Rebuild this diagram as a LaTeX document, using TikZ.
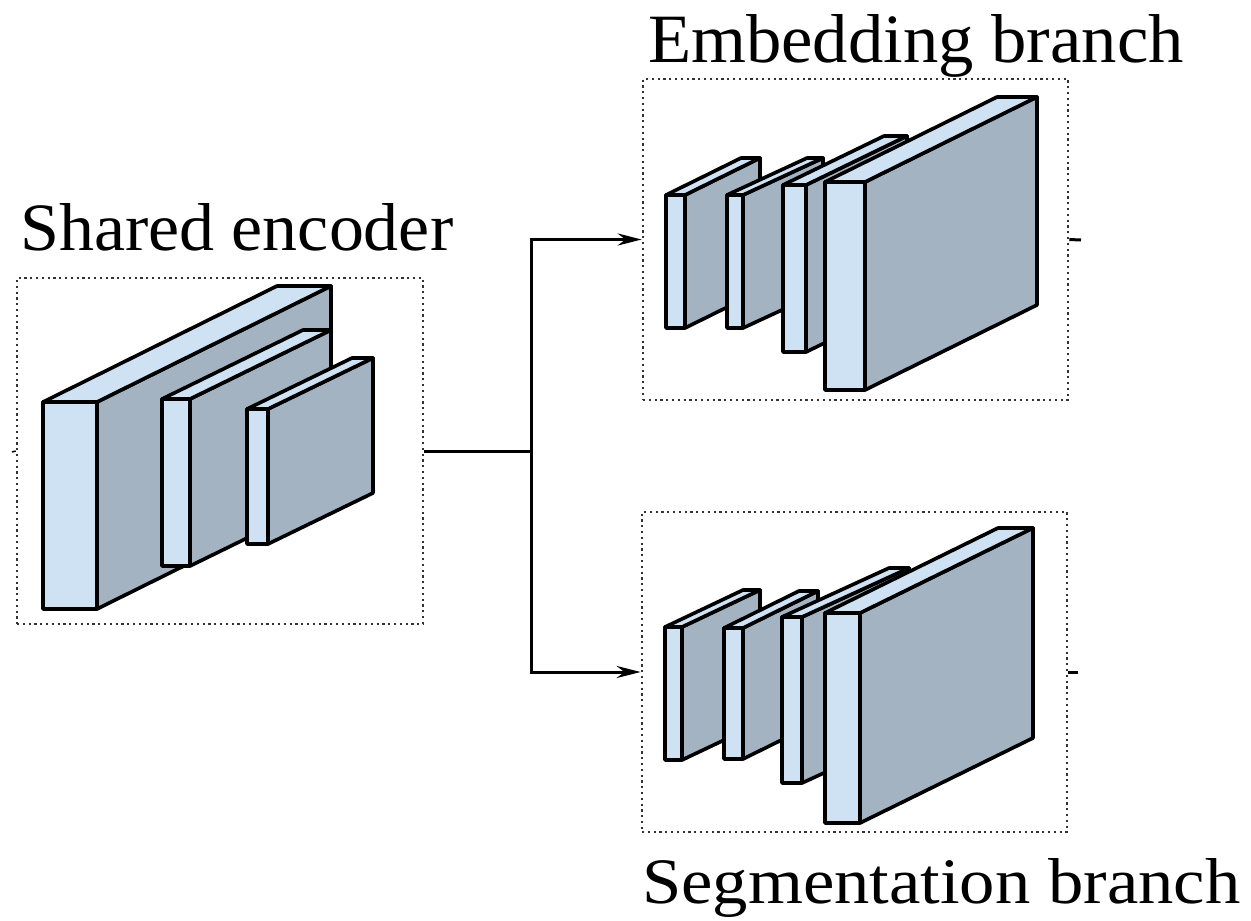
\documentclass[tikz,border=0pt]{standalone}
\usepackage{graphicx}
\usepackage{fontspec}
\setmainfont{Liberation Serif}
\usetikzlibrary{arrows.meta}
\definecolor{facecol}{RGB}{207,226,243}
\definecolor{sidecol}{RGB}{163,179,194}
\definecolor{framecol}{RGB}{50,50,50}
\tikzset{
  frame/.style={draw=framecol, line width=2.6pt, dash pattern=on 2.2pt off 3.6pt, inner sep=0pt, rectangle},
  conn/.style={draw=black, line width=3pt},
  arr/.style={conn, -{Stealth[length=24pt,width=12pt]}},
  layerline/.style={draw=black, line width=3.6pt, line join=round},
  lbl/.style={anchor=base west, inner sep=0pt, font=\rmfamily},
}
% x1, x2, ytop, ybot, dx, dy
\newcommand\layerblk[6]{%
  \filldraw[layerline, fill=sidecol] (#2,#3) -- ++(#5,#6) -- ++(0,#4-#3) -- (#2,#4) -- cycle;
  \filldraw[layerline, fill=facecol] (#1,#3) -- ++(#5,#6) -- ++(#2-#1,0) -- (#2,#3) -- cycle;
  \filldraw[layerline, fill=facecol] (#1,#3) rectangle (#2,#4);
}
\begin{document}
\begin{tikzpicture}[x=1pt,y=-1pt]
\useasboundingbox (0,0) rectangle (1251,921);

% frames
\node[frame, minimum width=406pt, minimum height=346pt] (enc) at (220,451) {};
\node[frame, minimum width=425pt, minimum height=321pt] (emb) at (855.5,239.5) {};
\node[frame, minimum width=425pt, minimum height=320pt] (seg) at (854.5,672) {};

% shared encoder layers
\layerblk{43}{97}{402}{609}{234}{-116}
\layerblk{162}{190}{399}{566}{141}{-69}
\layerblk{247}{268}{409}{544}{105}{-51}

% embedding branch layers
\layerblk{666}{685}{195}{328}{75}{-37}
\layerblk{727}{743}{195}{328}{80}{-37}
\layerblk{783}{806}{185}{352}{101}{-49}
\layerblk{825}{865}{182}{390}{172}{-85}

% segmentation branch layers
\layerblk{665}{682}{627}{760}{78}{-37}
\layerblk{724}{743}{628}{759}{75}{-37}
\layerblk{782}{802}{617}{783}{107}{-49}
\layerblk{825}{860}{613}{823}{173}{-85}

% connectors
\coordinate (split) at (531,451);
\coordinate (encin) at (12,452);
\draw[conn, line width=1.5pt] (encin) -- (enc.west);
\draw[conn] (enc.east) -- (split);
\draw[arr] (split) |- (emb.west);
\draw[arr] (split) |- (seg.west);
\coordinate (embout) at (1081,240);
\coordinate (segout) at (1078,672);
\draw[conn] (emb.east) -- (embout);
\draw[conn] (seg.east) -- (segout);

% labels
\node[lbl] (tenc) at (20,250) {\resizebox{433pt}{47pt}{Shared encoder}};
\node[lbl] (temb) at (648,62) {\resizebox{535pt}{48pt}{Embedding branch}};
\node[lbl] (tseg) at (642,903) {\resizebox{598pt}{45pt}{Segmentation branch}};
\end{tikzpicture}
\end{document}
